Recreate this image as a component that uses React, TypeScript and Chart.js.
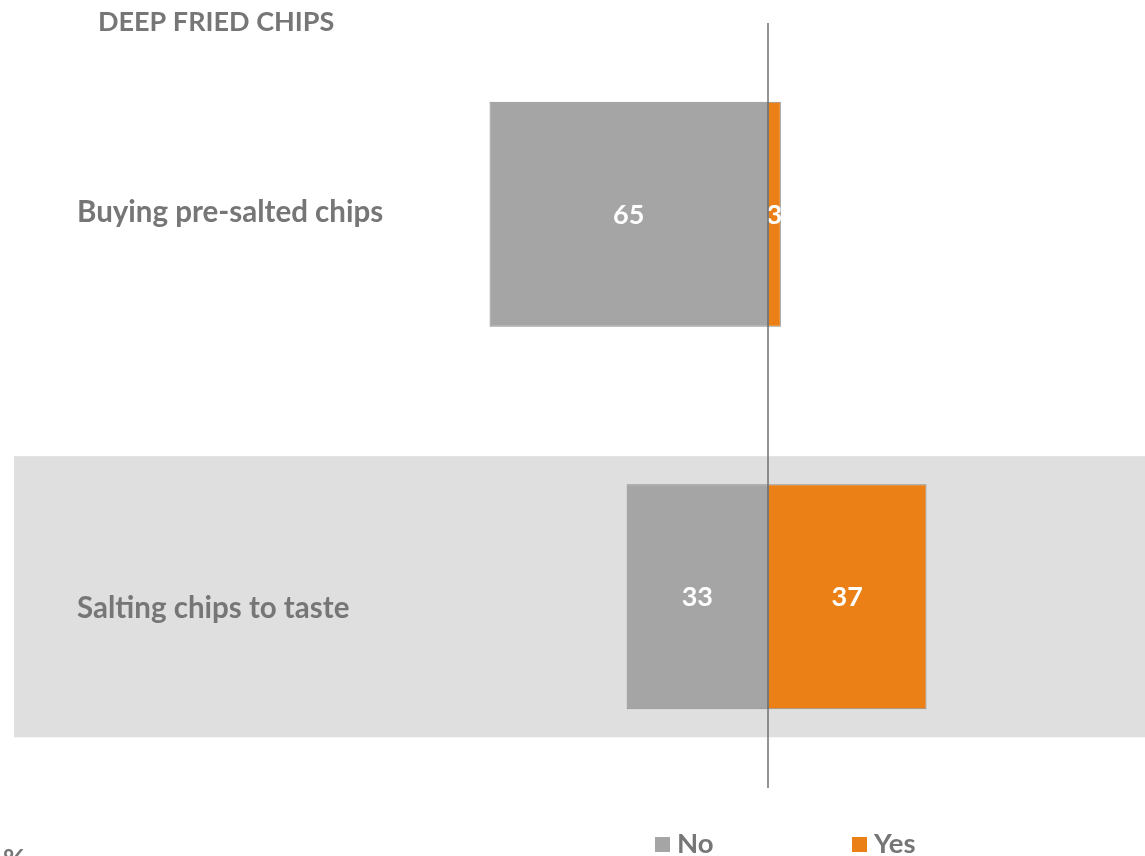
import React, { useEffect, useRef } from "react";
import { Chart, registerables } from "chart.js";

Chart.register(...registerables);

const chartTitle = "DEEP FRIED CHIPS";
const categories = ["Buying pre-salted chips", "Salting chips to taste"];
const seriesNames = ["No", "Yes"];
const noValues = [65, 33];
const yesValues = [3, 37];
const footnote = "%";

const TEXT_GRAY = "#767676";
const NO_COLOR = "#a5a5a5";
const YES_COLOR = "#eb8016";
const BAND_COLOR = "#dfdfdf";
const BORDER_COLOR = "#8c8c8c";
const FONT = "Lato, 'Open Sans', sans-serif";

const decorPlugin = {
  id: "decor",
  beforeDatasetsDraw(chart: any) {
    const { ctx, chartArea, scales } = chart;
    const y = scales.y;
    const catH = (chartArea.bottom - chartArea.top) / categories.length;
    ctx.save();
    ctx.fillStyle = BAND_COLOR;
    categories.forEach((_, i) => {
      if (i % 2 === 1) {
        const c = y.getPixelForValue(i);
        const h = catH * 0.735;
        ctx.fillRect(chartArea.left, c - h / 2, chart.width - chartArea.left, h);
      }
    });
    // category labels
    ctx.fillStyle = TEXT_GRAY;
    ctx.font = `bold 29.5px ${FONT}`;
    ctx.textAlign = "left";
    ctx.textBaseline = "alphabetic";
    const baseOffsets = [8, 21];
    categories.forEach((label, i) => {
      ctx.fillText(label, chartArea.left + 63, y.getPixelForValue(i) + baseOffsets[i]);
    });
    ctx.restore();
  },
  afterDatasetsDraw(chart: any) {
    const { ctx, chartArea, scales } = chart;
    const x0 = scales.x.getPixelForValue(0);
    ctx.save();
    // value labels
    ctx.fillStyle = "#ffffff";
    ctx.font = `bold 27px ${FONT}`;
    ctx.textAlign = "center";
    ctx.textBaseline = "alphabetic";
    chart.data.datasets.forEach((ds: any, di: number) => {
      const meta = chart.getDatasetMeta(di);
      meta.data.forEach((bar: any, i: number) => {
        const v = Math.abs(ds.data[i]);
        const cx = (bar.x + bar.base) / 2;
        ctx.fillText(String(v), cx, bar.y + 9.5);
      });
    });
    // zero line
    ctx.strokeStyle = "#707070";
    ctx.lineWidth = 1.5;
    ctx.beginPath();
    ctx.moveTo(x0, chartArea.top);
    ctx.lineTo(x0, chartArea.bottom);
    ctx.stroke();
    // title
    ctx.fillStyle = TEXT_GRAY;
    ctx.font = `bold 27px ${FONT}`;
    ctx.textAlign = "left";
    ctx.fillText(chartTitle, 98, 31);
    // legend
    const legendX = [655, 852];
    const colors = [NO_COLOR, YES_COLOR];
    ctx.font = `bold 27.5px ${FONT}`;
    seriesNames.forEach((name, i) => {
      ctx.fillStyle = colors[i];
      ctx.fillRect(legendX[i], 837, 15, 15);
      ctx.fillStyle = TEXT_GRAY;
      ctx.fillText(name, legendX[i] + 22, 853);
    });
    // footnote
    ctx.fillText(footnote, 3, 868);
    ctx.restore();
  },
};

export default function App() {
  const ref = useRef<HTMLCanvasElement>(null);
  useEffect(() => {
    if (!ref.current) return;
    const chart = new Chart(ref.current, {
      type: "bar",
      data: {
        labels: categories,
        datasets: [
          {
            label: seriesNames[0],
            data: noValues.map((v) => -v),
            backgroundColor: NO_COLOR,
            borderColor: BORDER_COLOR,
            borderWidth: 1,
            borderSkipped: false,
            categoryPercentage: 1,
            barPercentage: 0.588,
          },
          {
            label: seriesNames[1],
            data: yesValues,
            backgroundColor: YES_COLOR,
            borderColor: BORDER_COLOR,
            borderWidth: 1,
            borderSkipped: false,
            categoryPercentage: 1,
            barPercentage: 0.588,
          },
        ],
      },
      options: {
        indexAxis: "y",
        animation: false,
        responsive: true,
        maintainAspectRatio: false,
        layout: { padding: { left: 14, right: 0, top: 23, bottom: 68 } },
        scales: {
          x: { stacked: true, min: -176, max: 88, display: false },
          y: { stacked: true, display: false },
        },
        plugins: {
          legend: { display: false },
          title: { display: false },
          tooltip: { enabled: false },
        },
      },
      plugins: [decorPlugin],
    });
    return () => chart.destroy();
  }, []);
  return (
    <div style={{ position: "fixed", left: 0, top: 0, width: 1145, height: 856, background: "#ffffff" }}>
      <canvas ref={ref} />
    </div>
  );
}
